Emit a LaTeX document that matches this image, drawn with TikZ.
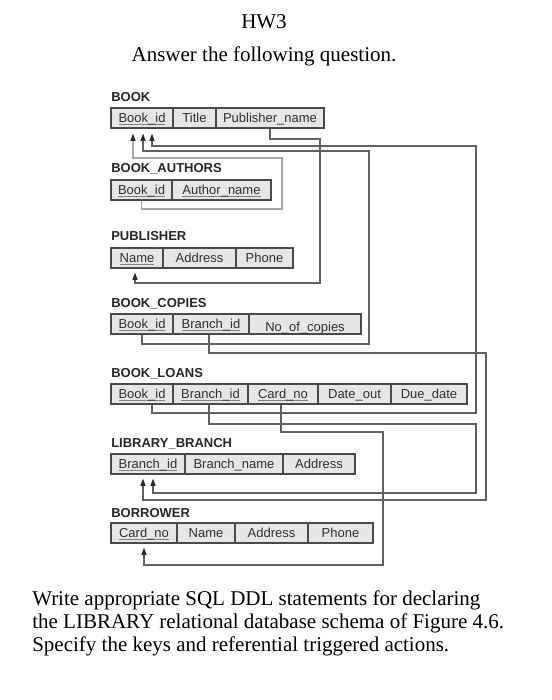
\documentclass[tikz,border=0pt]{standalone}
\usepackage{fontspec}
\setmainfont{Liberation Serif}
\newfontfamily\schemafont{Liberation Sans}
\usetikzlibrary{arrows.meta,calc}
\definecolor{celledge}{HTML}{4A4A4A}
\definecolor{cellfill}{HTML}{E6E6E8}
\definecolor{celltext}{HTML}{303030}
\definecolor{fkline}{HTML}{606060}
\definecolor{fklight}{HTML}{A8A8A8}
\definecolor{fktip}{HTML}{2A2A2A}
\tikzset{
  cell/.style={draw=celledge, fill=cellfill, line width=0.8pt, minimum height=15pt,
    inner sep=0pt, text height=8pt, text depth=1.4pt, text=celltext,
    font=\schemafont\fontsize{9.75}{11}\selectfont},
  relname/.style={anchor=base west, inner sep=0pt, text=celltext!80!black,
    font=\schemafont\bfseries\fontsize{9.75}{11}\selectfont},
  fk/.style={draw=fkline, line width=0.9pt, -{Triangle[length=5.5pt,width=3.8pt,color=fktip]}},
  fklite/.style={fk, draw=fklight},
  prose/.style={anchor=base west, inner sep=0pt, font=\fontsize{15.75}{18}\selectfont},
}
% key attribute: underline at the level of the underscore
\newcommand{\keyfield}[1]{\setbox0\hbox{#1}\rlap{\color{celledge!70}\rule[-2.1pt]{\wd0}{0.55pt}}\box0}
% one relation: name prefix, top edge, cells left/right/name/text
\newcommand{\relrow}[3]{%
  \foreach \xa/\xb/\cname/\ctext in {#3} {
    \pgfmathsetmacro{\cw}{(\xb-\xa)*0.75}
    \node[cell, minimum width=\cw pt] (#1\cname) at ({(\xa+\xb)/2},#2+10) {\ctext};
  }}
\begin{document}
\begin{tikzpicture}[x=0.75pt,y=-0.75pt]
\useasboundingbox (0,0) rectangle (551,700);
\fill[white] (0,0) rectangle (551,700);

% heading and question
\node[prose, anchor=base] (hw) at (264,28) {HW3};
\node[prose, anchor=base] (task) at (264,61) {Answer the following question.};

% relations
\node[relname] (lbook) at (111,101) {BOOK};
\relrow{book}{108}{111/173/id/\keyfield{Book\_id}, 173/216/title/Title, 216/324/pub/Publisher\_name}
\node[relname] (lba) at (111,172) {BOOK\_AUTHORS};
\relrow{ba}{180}{111/172/id/\keyfield{Book\_id}, 172/271/author/\keyfield{Author\_name}}
\node[relname] (lpub) at (111,240) {PUBLISHER};
\relrow{pub}{248}{111/163/name/\keyfield{Name}, 163/236/addr/Address, 236/293/phone/Phone}
\node[relname] (lbc) at (111,307) {BOOK\_COPIES};
\relrow{bc}{314}{111/173/id/\keyfield{Book\_id}, 173/249/branch/\keyfield{Branch\_id}, 249/361/copies/\raisebox{-2pt}{No\_of\_copies}}
\node[relname] (lbl) at (111,377) {BOOK\_LOANS};
\relrow{bl}{384}{111/173/id/\keyfield{Book\_id}, 173/248/branch/\keyfield{Branch\_id}, 248/318/card/\keyfield{Card\_no}, 318/391/out/Date\_out, 391/467/due/Due\_date}
\node[relname] (llb) at (111,447) {LIBRARY\_BRANCH};
\relrow{lb}{454}{111/185/branch/\keyfield{Branch\_id}, 185/283/name/Branch\_name, 283/355/addr/Address}
\node[relname] (lbr) at (111,517) {BORROWER};
\relrow{br}{523}{111/177/card/\keyfield{Card\_no}, 177/235/name/Name, 235/308/addr/Address, 308/373/phone/Phone}

% foreign keys
\draw[fk] (bookpub.south) |- (320,139) |- (135,283) -- ($(pubname.south)+(-2,4)$);
\draw[fklite] (baid.south) |- (282,209) |- (133,158) -- ($(bookid.south)+(-9,5)$);
\draw[fk] (bcid.south) |- (369,344) |- (143,151) -- ($(bookid.south)+(1,5)$);
\draw[fk] ($(blid.south)+(10,0)$) |- (476,413) |- (152,146) -- ($(bookid.south)+(10,5)$);
\draw[fk] ($(bcbranch.south)+(-2,0)$) |- (486,353) |- (143,500) -- ($(lbbranch.south)+(-5,4)$);
\draw[fk] ($(blbranch.south)+(-1.5,0)$) |- (476,424) |- (153,493) -- ($(lbbranch.south)+(5,4)$);
\draw[fk] ($(blcard.south)+(-2,0)$) |- (383,432) |- (144,565) -- ($(brcard.south)+(0,4)$);

% task text
\node[prose] (q1) at (32,605) {Write appropriate SQL DDL statements for declaring};
\node[prose] (q2) at (32,628) {the LIBRARY relational database schema of Figure 4.6.};
\node[prose] (q3) at (32,651) {Specify the keys and referential triggered actions.};
\end{tikzpicture}
\end{document}
